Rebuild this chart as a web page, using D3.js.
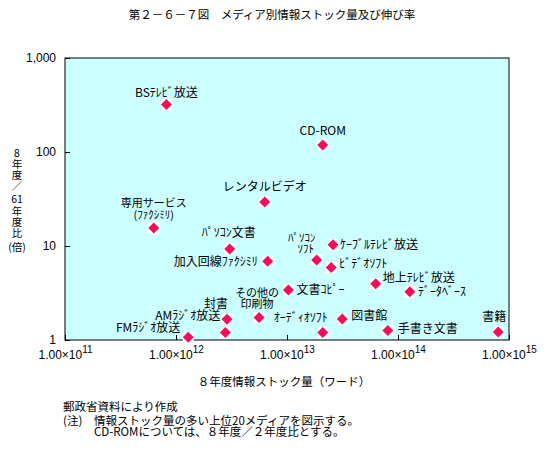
<!DOCTYPE html>
<html>
<head>
<meta charset="utf-8">
<script src="https://cdn.jsdelivr.net/npm/d3@7"></script>
<style>
  html, body { margin: 0; padding: 0; background: #fff; }
  svg { display: block; font-family: "Noto Sans CJK JP", "Noto Sans", sans-serif; }
</style>
</head>
<body>
<svg id="chart" width="554" height="454"></svg>
<script>
// ---- data ----
const media = ["BSﾃﾚﾋﾞ放送", "CD-ROM", "レンタルビデオ", "専用サービス|(ﾌｧｸｼﾐﾘ)", "ﾊﾟｿｺﾝ文書",
  "加入回線ﾌｧｸｼﾐﾘ", "ﾊﾟｿｺﾝ|ｿﾌﾄ", "ｹｰﾌﾞﾙﾃﾚﾋﾞ放送", "ﾋﾞﾃﾞｵｿﾌﾄ", "文書ｺﾋﾟｰ",
  "その他の|印刷物", "封書", "AMﾗｼﾞｵ放送", "FMﾗｼﾞｵ放送", "ｵｰﾃﾞｨｵｿﾌﾄ",
  "図書館", "手書き文書", "書籍", "地上ﾃﾚﾋﾞ放送", "ﾃﾞｰﾀﾍﾞｰｽ"];
const stock = [8.2e11, 2.1e13, 6.3e12, 6.3e11, 3.05e12,
  6.7e12, 1.85e13, 2.6e13, 2.5e13, 1.03e13,
  5.6e12, 2.88e12, 2.78e12, 1.29e12, 2.1e13,
  3.15e13, 8.1e13, 8.0e14, 6.3e13, 1.28e14];
const ratio = [320, 119, 29.4, 15.5, 9.3,
  6.9, 7.1, 10.3, 5.9, 3.4,
  1.73, 1.66, 1.2, 1.07, 1.2,
  1.67, 1.26, 1.22, 3.97, 3.26];
const xTicks = [1e11, 1e12, 1e13, 1e14, 1e15];
const yTicks = [1, 10, 100, 1000];
const yTickLabels = ["1", "10", "100", "1,000"];

// label placement relative to each marker: [anchor, dx, dy]
const labelPlace = [["middle", 0, -12], ["middle", 0, -14], ["middle", 0, -15], ["middle", 0, -25], ["middle", -1, -16],
  ["end", -10, 1], ["middle", -15, -22], ["start", 7, 0], ["start", 8, -4], ["start", 8, 0],
  ["middle", -2, -25], ["middle", -11, -15], ["end", -5, -17], ["end", -8, -9], ["end", 5, -15],
  ["start", 9, -3], ["start", 10, -2], ["middle", -4, -15], ["start", 7, -6], ["start", 8, 0]];

// ---- layout ----
const L = 65, R = 509, T = 58, B = 340;
const svg = d3.select("#chart");
const x = d3.scaleLog().domain([1e11, 1e15]).range([L, R]);
const y = d3.scaleLog().domain([1, 1000]).range([B, T]);

svg.append("text").attr("x", 272).attr("y", 19).attr("text-anchor", "middle")
  .attr("font-size", 11.5).text("第２－６－７図　メディア別情報ストック量及び伸び率");

svg.append("rect").attr("x", L).attr("y", T).attr("width", R - L).attr("height", B - T)
  .attr("fill", "#ccffff").attr("stroke", "#000").attr("stroke-width", 1);

// y axis
const gy = svg.append("g").attr("transform", `translate(${L},0)`)
  .call(d3.axisLeft(y).tickValues(yTicks).tickSize(-5).tickPadding(9)
    .tickFormat((d, i) => yTickLabels[i]));
gy.select(".domain").remove();
gy.selectAll(".tick text").attr("font-size", 12).attr("font-family", "Liberation Sans, Arial, sans-serif").attr("fill", "#000");

// x axis
const gx = svg.append("g").attr("transform", `translate(0,${B})`)
  .call(d3.axisBottom(x).tickValues(xTicks).tickSize(-5).tickFormat(() => ""));
gx.select(".domain").remove();
gx.selectAll(".tick text").each(function (d) {
  const t = d3.select(this).attr("y", 19).attr("dy", 0).attr("font-size", 12)
    .attr("font-family", "Liberation Sans, Arial, sans-serif").attr("fill", "#000").text(null);
  t.append("tspan").text("1.00×10");
  t.append("tspan").attr("dy", -6).attr("font-size", 10).text(Math.round(Math.log10(d)));
});

// axis titles
svg.append("text").attr("x", 284).attr("y", 386).attr("text-anchor", "middle")
  .attr("font-size", 11.5).text("８年度情報ストック量（ワード）");
const yTitle = ["8", "年", "度", "／", "61", "年", "度", "比", "(倍)"];
const yTitleY = [153, 164.5, 175, 186, 199, 211, 222.5, 233, 247];
svg.append("g").selectAll("text").data(yTitle).join("text")
  .attr("x", 17).attr("y", (d, i) => yTitleY[i] + 3.5).attr("text-anchor", "middle")
  .attr("font-size", 10.5).text(d => d);

// markers
const pts = svg.append("g").selectAll("g").data(media).join("g")
  .attr("transform", (d, i) => `translate(${x(stock[i])},${y(ratio[i])})`);
pts.append("rect").attr("x", -5.5).attr("y", -5.5).attr("width", 11).attr("height", 11).attr("fill", "#fff");
pts.append("path").attr("d", "M0,-5.5L5.5,0L0,5.5L-5.5,0Z").attr("fill", "#f0105a");

// labels
svg.append("g").selectAll("text").data(media).join("text")
  .attr("font-size", d => d.includes("|") ? 11 : 12)
  .attr("text-anchor", (d, i) => labelPlace[i][0])
  .attr("transform", (d, i) => `translate(${x(stock[i]) + labelPlace[i][1]},${y(ratio[i]) + labelPlace[i][2]})`)
  .each(function (d, i) {
    const lines = d.split("|");
    const t = d3.select(this);
    lines.forEach((ln, j) => {
      let dx = 0;
      if (i === 6 && j === 1) dx = 4;
      t.append("tspan").attr("x", dx).attr("y", j * 11.5 + 4).text(ln);
    });
  });

// footnotes
const notes = svg.append("g").attr("font-size", 11.5);
notes.append("text").attr("x", 63).attr("y", 411).text("郵政省資料により作成");
notes.append("text").attr("x", 63).attr("y", 425).text("(注)");
notes.append("text").attr("x", 94).attr("y", 425).text("情報ストック量の多い上位20メディアを図示する。");
notes.append("text").attr("x", 94).attr("y", 436).text("CD-ROMについては、８年度／２年度比とする。");
</script>
</body>
</html>
